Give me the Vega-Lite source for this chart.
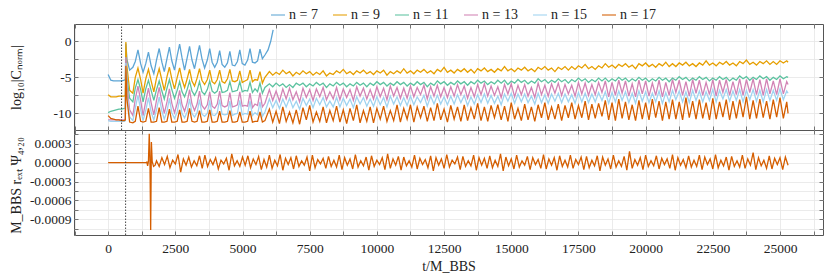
{
"$schema": "https://vega.github.io/schema/vega-lite/v6.json",
"autosize": {"type": "pad"},
"padding": {"left": 8, "top": 5, "right": 0, "bottom": 0},
"spacing": 0,
"bounds": "flush",
"config": {
 "view": {"stroke": "#555", "strokeWidth": 1},
 "font": "Liberation Serif",
 "axis": {"labelFont": "Liberation Serif", "labelFontSize": 13.5, "labelColor": "#222", "titleFont": "Liberation Serif", "titleFontSize": 14, "titleColor": "#222", "titleFontWeight": "normal", "domain": false, "tickColor": "#555", "tickSize": -4, "tickWidth": 0.8, "gridColor": "#e6e6e6", "gridWidth": 0.8, "labelFlush": false, "labelOverlap": false, "labelPadding": 7}
},
"datasets": {
 "top": [
{"t":0,"n07":-4.6,"n09":-7.4,"n11":-9.9,"n13":-10.9,"n15":-11.0,"n17":-10.3},
{"t":100,"n07":-5.4,"n09":-7.7,"n11":-9.7,"n13":-10.9,"n15":-11.1,"n17":-10.7},
{"t":200,"n07":-5.5,"n09":-7.7,"n11":-9.6,"n13":-10.9,"n15":-11.1,"n17":-10.8},
{"t":300,"n07":-5.5,"n09":-7.7,"n11":-9.5,"n13":-10.9,"n15":-11.1,"n17":-10.9},
{"t":400,"n07":-5.5,"n09":-7.6,"n11":-9.4,"n13":-10.9,"n15":-11.1,"n17":-10.9},
{"t":500,"n07":-5.5,"n09":-7.6,"n11":-9.4,"n13":-10.9,"n15":-11.1,"n17":-11.0},
{"t":600,"n07":-5.4,"n09":-7.6,"n11":-9.3,"n13":-10.9,"n15":-11.1,"n17":-11.0},
{"t":640,"n07":-5.3,"n09":-7.5,"n11":-9.3,"n13":-10.8,"n15":-11.0,"n17":-10.9},
{"t":660,"n07":-0.3,"n09":-0.1,"n11":-2.2,"n13":-2.2,"n15":-3.0,"n17":-3.4},
{"t":700,"n07":-2.5,"n09":-3.5,"n11":-5.0,"n13":-6.0,"n15":-7.0,"n17":-8.0},
{"t":800,"n07":-4.0,"n09":-6.8,"n11":-7.9,"n13":-9.5,"n15":-10.5,"n17":-11.2},
{"t":920,"n07":-3.6,"n09":-7.2,"n11":-8.4,"n13":-10.3,"n15":-11.0,"n17":-11.3},
{"t":1010,"n07":-2.8,"n09":-5.0,"n11":-6.5,"n13":-8.0,"n15":-9.3,"n17":-11.1},
{"t":1110,"n07":-1.2,"n09":-3.7,"n11":-5.3,"n13":-6.2,"n15":-7.5,"n17":-9.0},
{"t":1210,"n07":-3.1,"n09":-5.3,"n11":-6.7,"n13":-8.2,"n15":-9.5,"n17":-11.1},
{"t":1300,"n07":-4.3,"n09":-7.2,"n11":-8.4,"n13":-10.3,"n15":-11.0,"n17":-11.2},
{"t":1400,"n07":-3.1,"n09":-5.2,"n11":-6.6,"n13":-8.3,"n15":-9.6,"n17":-11.1},
{"t":1500,"n07":-1.5,"n09":-3.9,"n11":-5.4,"n13":-6.5,"n15":-7.8,"n17":-9.3},
{"t":1600,"n07":-3.4,"n09":-5.5,"n11":-6.8,"n13":-8.5,"n15":-9.8,"n17":-11.2},
{"t":1700,"n07":-4.5,"n09":-7.0,"n11":-8.2,"n13":-10.2,"n15":-10.9,"n17":-11.2},
{"t":1800,"n07":-2.6,"n09":-5.1,"n11":-6.7,"n13":-8.2,"n15":-9.5,"n17":-11.1},
{"t":1900,"n07":-1.0,"n09":-3.8,"n11":-5.5,"n13":-6.4,"n15":-7.7,"n17":-9.2},
{"t":2000,"n07":-2.9,"n09":-5.4,"n11":-6.9,"n13":-8.4,"n15":-9.7,"n17":-11.2},
{"t":2090,"n07":-4.2,"n09":-6.8,"n11":-8.0,"n13":-10.0,"n15":-10.8,"n17":-11.2},
{"t":2190,"n07":-2.4,"n09":-4.9,"n11":-6.5,"n13":-8.4,"n15":-9.7,"n17":-11.1},
{"t":2280,"n07":-0.8,"n09":-3.6,"n11":-5.3,"n13":-6.6,"n15":-7.9,"n17":-9.4},
{"t":2370,"n07":-2.7,"n09":-5.2,"n11":-6.7,"n13":-8.6,"n15":-9.9,"n17":-11.2},
{"t":2470,"n07":-4.0,"n09":-6.6,"n11":-7.9,"n13":-9.9,"n15":-10.7,"n17":-11.2},
{"t":2570,"n07":-2.0,"n09":-5.0,"n11":-6.8,"n13":-8.6,"n15":-9.8,"n17":-11.1},
{"t":2660,"n07":-0.4,"n09":-3.7,"n11":-5.6,"n13":-6.8,"n15":-8.0,"n17":-9.5},
{"t":2750,"n07":-2.3,"n09":-5.3,"n11":-7.0,"n13":-8.8,"n15":-10.0,"n17":-11.2},
{"t":2845,"n07":-4.0,"n09":-6.4,"n11":-7.7,"n13":-9.7,"n15":-10.6,"n17":-11.2},
{"t":2940,"n07":-2.3,"n09":-5.2,"n11":-6.7,"n13":-8.5,"n15":-9.8,"n17":-11.1},
{"t":3030,"n07":-0.7,"n09":-3.9,"n11":-5.5,"n13":-6.7,"n15":-8.0,"n17":-9.3},
{"t":3120,"n07":-2.6,"n09":-5.5,"n11":-6.9,"n13":-8.7,"n15":-10.0,"n17":-11.1},
{"t":3215,"n07":-3.8,"n09":-6.2,"n11":-7.5,"n13":-9.6,"n15":-10.5,"n17":-11.2},
{"t":3310,"n07":-2.1,"n09":-5.1,"n11":-6.8,"n13":-8.7,"n15":-9.9,"n17":-11.1},
{"t":3400,"n07":-0.55,"n09":-3.8,"n11":-5.6,"n13":-6.9,"n15":-8.1,"n17":-9.6},
{"t":3490,"n07":-2.4,"n09":-5.4,"n11":-7.0,"n13":-8.9,"n15":-10.1,"n17":-11.2},
{"t":3590,"n07":-3.7,"n09":-6.0,"n11":-7.4,"n13":-9.4,"n15":-10.4,"n17":-11.2},
{"t":3690,"n07":-2.6,"n09":-5.3,"n11":-6.7,"n13":-8.8,"n15":-10.0,"n17":-11.1},
{"t":3780,"n07":-1.0,"n09":-4.0,"n11":-5.5,"n13":-7.0,"n15":-8.2,"n17":-9.5},
{"t":3870,"n07":-2.9,"n09":-5.6,"n11":-6.9,"n13":-9.0,"n15":-10.2,"n17":-11.2},
{"t":3965,"n07":-3.6,"n09":-5.9,"n11":-7.2,"n13":-9.3,"n15":-10.3,"n17":-11.2},
{"t":4060,"n07":-2.9,"n09":-5.3,"n11":-6.9,"n13":-8.7,"n15":-9.9,"n17":-11.1},
{"t":4150,"n07":-1.3,"n09":-4.0,"n11":-5.7,"n13":-6.9,"n15":-8.1,"n17":-9.7},
{"t":4240,"n07":-3.2,"n09":-5.6,"n11":-7.1,"n13":-8.9,"n15":-10.1,"n17":-11.2},
{"t":4340,"n07":-3.6,"n09":-5.8,"n11":-7.0,"n13":-9.1,"n15":-10.2,"n17":-11.2},
{"t":4440,"n07":-3.0,"n09":-5.2,"n11":-6.8,"n13":-8.9,"n15":-10.1,"n17":-11.1},
{"t":4530,"n07":-1.4,"n09":-3.9,"n11":-5.6,"n13":-7.1,"n15":-8.3,"n17":-9.6},
{"t":4620,"n07":-3.3,"n09":-5.5,"n11":-7.0,"n13":-9.1,"n15":-10.3,"n17":-11.2},
{"t":4715,"n07":-3.4,"n09":-5.6,"n11":-6.9,"n13":-9.0,"n15":-10.1,"n17":-11.2},
{"t":4810,"n07":-2.8,"n09":-5.4,"n11":-6.8,"n13":-8.8,"n15":-10.0,"n17":-11.1},
{"t":4900,"n07":-1.2,"n09":-4.1,"n11":-5.6,"n13":-7.0,"n15":-8.2,"n17":-9.8},
{"t":4990,"n07":-3.1,"n09":-5.7,"n11":-7.0,"n13":-9.0,"n15":-10.2,"n17":-11.2},
{"t":5090,"n07":-3.3,"n09":-5.5,"n11":-6.8,"n13":-8.9,"n15":-10.0,"n17":-11.2},
{"t":5190,"n07":-2.6,"n09":-5.3,"n11":-6.9,"n13":-9.0,"n15":-10.1,"n17":-11.1},
{"t":5280,"n07":-1.0,"n09":-4.0,"n11":-5.7,"n13":-7.2,"n15":-8.3,"n17":-9.7},
{"t":5370,"n07":-2.9,"n09":-5.6,"n11":-7.1,"n13":-9.2,"n15":-10.3,"n17":-11.2},
{"t":5465,"n07":-3.0,"n09":-5.3,"n11":-6.6,"n13":-8.7,"n15":-9.9,"n17":-11.1},
{"t":5560,"n07":-2.7,"n09":-5.4,"n11":-7.0,"n13":-8.9,"n15":-10.2,"n17":-11.1},
{"t":5650,"n07":-1.1,"n09":-4.2,"n11":-5.8,"n13":-7.1,"n15":-8.4,"n17":-9.8},
{"t":5740,"n07":-2.4,"n09":-5.8,"n11":-7.2,"n13":-9.1,"n15":-10.4,"n17":-11.2},
{"t":5835,"n07":-1.9,"n09":-5.0,"n11":-6.4,"n13":-8.6,"n15":-9.8,"n17":-11.0},
{"t":5950,"n07":-1.2},
{"t":6050,"n07":0.0},
{"t":6100,"n07":0.9},
{"t":6140,"n07":1.6},
{"t":6000,"n09":-4.2,"n11":-5.9,"n13":-6.7,"n15":-8.0,"n17":-9.4},
{"t":6125,"n09":-4.7,"n11":-6.3,"n13":-8.2,"n15":-9.2,"n17":-11.2},
{"t":6250,"n09":-4.3,"n11":-5.8,"n13":-6.9,"n15":-8.2,"n17":-9.7},
{"t":6375,"n09":-4.6,"n11":-6.2,"n13":-8.3,"n15":-9.3,"n17":-11.4},
{"t":6500,"n09":-4.0,"n11":-5.9,"n13":-6.6,"n15":-8.0,"n17":-9.1},
{"t":6625,"n09":-4.5,"n11":-6.4,"n13":-8.0,"n15":-9.1,"n17":-11.1},
{"t":6750,"n09":-4.2,"n11":-6.0,"n13":-6.5,"n15":-7.9,"n17":-9.8},
{"t":6875,"n09":-4.8,"n11":-6.4,"n13":-8.1,"n15":-9.2,"n17":-11.3},
{"t":7000,"n09":-4.3,"n11":-5.8,"n13":-7.0,"n15":-8.3,"n17":-9.5},
{"t":7125,"n09":-4.6,"n11":-6.1,"n13":-8.4,"n15":-9.4,"n17":-11.5},
{"t":7250,"n09":-4.1,"n11":-5.8,"n13":-6.5,"n15":-7.9,"n17":-9.2},
{"t":7375,"n09":-4.5,"n11":-6.3,"n13":-7.8,"n15":-8.9,"n17":-10.9},
{"t":7500,"n09":-4.2,"n11":-5.9,"n13":-6.7,"n15":-8.0,"n17":-8.9},
{"t":7625,"n09":-4.7,"n11":-6.2,"n13":-8.2,"n15":-9.2,"n17":-11.2},
{"t":7750,"n09":-4.3,"n11":-5.7,"n13":-6.6,"n15":-7.9,"n17":-9.8},
{"t":7875,"n09":-4.6,"n11":-6.1,"n13":-7.7,"n15":-8.8,"n17":-11.1},
{"t":8000,"n09":-4.1,"n11":-5.8,"n13":-6.4,"n15":-7.8,"n17":-9.1},
{"t":8125,"n09":-4.8,"n11":-6.4,"n13":-8.1,"n15":-9.1,"n17":-11.3},
{"t":8250,"n09":-4.4,"n11":-5.9,"n13":-7.0,"n15":-8.3,"n17":-9.6},
{"t":8375,"n09":-4.6,"n11":-6.2,"n13":-8.0,"n15":-9.1,"n17":-11.0},
{"t":8500,"n09":-4.1,"n11":-5.7,"n13":-6.4,"n15":-7.8,"n17":-9.0},
{"t":8625,"n09":-4.4,"n11":-6.1,"n13":-8.1,"n15":-9.1,"n17":-11.2},
{"t":8750,"n09":-3.9,"n11":-5.8,"n13":-6.6,"n15":-7.9,"n17":-9.5},
{"t":8875,"n09":-4.5,"n11":-6.3,"n13":-7.8,"n15":-8.9,"n17":-11.4},
{"t":9000,"n09":-4.2,"n11":-5.9,"n13":-6.7,"n15":-8.0,"n17":-9.3},
{"t":9125,"n09":-4.6,"n11":-6.2,"n13":-8.2,"n15":-9.2,"n17":-11.0},
{"t":9250,"n09":-4.1,"n11":-5.7,"n13":-6.3,"n15":-7.7,"n17":-8.8},
{"t":9375,"n09":-4.4,"n11":-6.1,"n13":-7.6,"n15":-8.7,"n17":-11.3},
{"t":9500,"n09":-4.0,"n11":-5.8,"n13":-6.5,"n15":-7.8,"n17":-9.6},
{"t":9625,"n09":-4.5,"n11":-6.3,"n13":-8.0,"n15":-9.0,"n17":-11.1},
{"t":9750,"n09":-4.2,"n11":-5.8,"n13":-6.7,"n15":-8.0,"n17":-9.1},
{"t":9875,"n09":-4.6,"n11":-6.1,"n13":-8.0,"n15":-9.0,"n17":-11.3},
{"t":10000,"n09":-4.1,"n11":-5.6,"n13":-6.3,"n15":-7.7,"n17":-9.3},
{"t":10125,"n09":-4.4,"n11":-6.0,"n13":-7.7,"n15":-8.8,"n17":-10.8},
{"t":10250,"n09":-4.0,"n11":-5.7,"n13":-6.5,"n15":-7.8,"n17":-9.0},
{"t":10375,"n09":-4.7,"n11":-6.2,"n13":-8.1,"n15":-9.1,"n17":-11.1},
{"t":10500,"n09":-4.2,"n11":-5.8,"n13":-6.2,"n15":-7.6,"n17":-9.6},
{"t":10625,"n09":-4.5,"n11":-6.1,"n13":-7.6,"n15":-8.7,"n17":-11.0},
{"t":10750,"n09":-4.1,"n11":-5.6,"n13":-6.4,"n15":-7.7,"n17":-8.8},
{"t":10875,"n09":-4.4,"n11":-6.0,"n13":-7.9,"n15":-8.9,"n17":-11.2},
{"t":11000,"n09":-3.8,"n11":-5.7,"n13":-6.5,"n15":-7.8,"n17":-9.3},
{"t":11125,"n09":-4.4,"n11":-6.2,"n13":-7.9,"n15":-8.9,"n17":-10.8},
{"t":11250,"n09":-4.1,"n11":-5.8,"n13":-6.2,"n15":-7.6,"n17":-8.8},
{"t":11375,"n09":-4.5,"n11":-6.1,"n13":-7.7,"n15":-8.8,"n17":-11.2},
{"t":11500,"n09":-4.0,"n11":-5.6,"n13":-6.4,"n15":-7.7,"n17":-9.1},
{"t":11625,"n09":-4.3,"n11":-6.0,"n13":-7.4,"n15":-8.5,"n17":-10.6},
{"t":11750,"n09":-3.9,"n11":-5.7,"n13":-6.1,"n15":-7.5,"n17":-9.0},
{"t":11875,"n09":-4.4,"n11":-6.3,"n13":-8.0,"n15":-9.0,"n17":-11.1},
{"t":12000,"n09":-4.1,"n11":-5.8,"n13":-6.3,"n15":-7.6,"n17":-9.2},
{"t":12125,"n09":-4.5,"n11":-6.1,"n13":-7.6,"n15":-8.7,"n17":-11.0},
{"t":12250,"n09":-3.9,"n11":-5.5,"n13":-6.1,"n15":-7.5,"n17":-8.6},
{"t":12375,"n09":-4.2,"n11":-5.9,"n13":-7.7,"n15":-8.7,"n17":-10.9},
{"t":12500,"n09":-3.6,"n11":-5.6,"n13":-6.4,"n15":-7.7,"n17":-9.4},
{"t":12625,"n09":-4.3,"n11":-6.1,"n13":-7.8,"n15":-8.8,"n17":-11.2},
{"t":12750,"n09":-4.0,"n11":-5.7,"n13":-6.3,"n15":-7.6,"n17":-8.9},
{"t":12875,"n09":-4.4,"n11":-6.0,"n13":-7.6,"n15":-8.7,"n17":-10.8},
{"t":13000,"n09":-3.9,"n11":-5.5,"n13":-6.0,"n15":-7.4,"n17":-9.1},
{"t":13125,"n09":-4.2,"n11":-5.9,"n13":-7.4,"n15":-8.5,"n17":-11.1},
{"t":13250,"n09":-3.8,"n11":-5.6,"n13":-6.2,"n15":-7.5,"n17":-8.8},
{"t":13375,"n09":-4.3,"n11":-6.1,"n13":-7.9,"n15":-8.9,"n17":-11.0},
{"t":13500,"n09":-3.9,"n11":-5.6,"n13":-6.4,"n15":-7.7,"n17":-9.2},
{"t":13625,"n09":-4.4,"n11":-5.9,"n13":-7.7,"n15":-8.7,"n17":-10.8},
{"t":13750,"n09":-3.8,"n11":-5.4,"n13":-6.0,"n15":-7.4,"n17":-8.6},
{"t":13875,"n09":-4.1,"n11":-5.8,"n13":-7.4,"n15":-8.5,"n17":-11.0},
{"t":14000,"n09":-3.7,"n11":-5.5,"n13":-5.9,"n15":-7.3,"n17":-9.1},
{"t":14125,"n09":-4.2,"n11":-6.0,"n13":-7.6,"n15":-8.6,"n17":-11.1},
{"t":14250,"n09":-3.9,"n11":-5.6,"n13":-6.2,"n15":-7.5,"n17":-8.9},
{"t":14375,"n09":-4.3,"n11":-5.9,"n13":-7.5,"n15":-8.6,"n17":-10.6},
{"t":14500,"n09":-3.8,"n11":-5.4,"n13":-6.3,"n15":-7.6,"n17":-8.8},
{"t":14625,"n09":-4.1,"n11":-5.8,"n13":-7.8,"n15":-8.8,"n17":-10.9},
{"t":14750,"n09":-3.5,"n11":-5.4,"n13":-6.0,"n15":-7.3,"n17":-9.0},
{"t":14875,"n09":-4.1,"n11":-6.0,"n13":-7.3,"n15":-8.3,"n17":-11.1},
{"t":15000,"n09":-3.8,"n11":-5.5,"n13":-5.9,"n15":-7.2,"n17":-8.5},
{"t":15125,"n09":-4.2,"n11":-5.8,"n13":-7.7,"n15":-8.6,"n17":-10.8},
{"t":15250,"n09":-3.7,"n11":-5.3,"n13":-6.1,"n15":-7.3,"n17":-9.3},
{"t":15375,"n09":-4.0,"n11":-5.7,"n13":-7.4,"n15":-8.4,"n17":-11.0},
{"t":15500,"n09":-3.6,"n11":-5.4,"n13":-6.0,"n15":-7.3,"n17":-8.7},
{"t":15625,"n09":-4.1,"n11":-5.9,"n13":-7.6,"n15":-8.5,"n17":-10.9},
{"t":15750,"n09":-3.8,"n11":-5.5,"n13":-6.4,"n15":-7.6,"n17":-9.1},
{"t":15875,"n09":-4.2,"n11":-5.8,"n13":-7.8,"n15":-8.7,"n17":-11.1},
{"t":16000,"n09":-3.6,"n11":-5.2,"n13":-5.8,"n15":-7.2,"n17":-8.8},
{"t":16125,"n09":-3.9,"n11":-5.6,"n13":-7.4,"n15":-8.5,"n17":-10.6},
{"t":16250,"n09":-3.5,"n11":-5.3,"n13":-6.1,"n15":-7.4,"n17":-8.5},
{"t":16375,"n09":-4.0,"n11":-5.8,"n13":-7.6,"n15":-8.6,"n17":-10.9},
{"t":16500,"n09":-3.7,"n11":-5.4,"n13":-5.9,"n15":-7.3,"n17":-9.1},
{"t":16625,"n09":-4.2,"n11":-5.7,"n13":-7.2,"n15":-8.3,"n17":-10.8},
{"t":16750,"n09":-3.6,"n11":-5.2,"n13":-5.8,"n15":-7.2,"n17":-8.7},
{"t":16875,"n09":-3.9,"n11":-5.6,"n13":-7.5,"n15":-8.5,"n17":-11.0},
{"t":17000,"n09":-3.5,"n11":-5.3,"n13":-6.0,"n15":-7.3,"n17":-8.9},
{"t":17125,"n09":-4.0,"n11":-5.8,"n13":-7.3,"n15":-8.4,"n17":-10.6},
{"t":17250,"n09":-3.5,"n11":-5.3,"n13":-6.1,"n15":-7.4,"n17":-8.5},
{"t":17375,"n09":-3.9,"n11":-5.6,"n13":-7.6,"n15":-8.6,"n17":-10.8},
{"t":17500,"n09":-3.4,"n11":-5.1,"n13":-5.7,"n15":-7.1,"n17":-8.9},
{"t":17625,"n09":-3.7,"n11":-5.5,"n13":-7.3,"n15":-8.4,"n17":-10.6},
{"t":17750,"n09":-3.2,"n11":-5.2,"n13":-5.8,"n15":-7.2,"n17":-8.3},
{"t":17875,"n09":-3.8,"n11":-5.7,"n13":-7.5,"n15":-8.5,"n17":-10.9},
{"t":18000,"n09":-3.5,"n11":-5.3,"n13":-6.0,"n15":-7.3,"n17":-8.7},
{"t":18125,"n09":-3.9,"n11":-5.6,"n13":-7.4,"n15":-8.4,"n17":-10.7},
{"t":18250,"n09":-3.4,"n11":-5.1,"n13":-5.7,"n15":-7.1,"n17":-8.6},
{"t":18375,"n09":-3.7,"n11":-5.5,"n13":-7.1,"n15":-8.2,"n17":-10.4},
{"t":18500,"n09":-3.1,"n11":-5.1,"n13":-5.5,"n15":-7.0,"n17":-8.2},
{"t":18625,"n09":-3.6,"n11":-5.6,"n13":-7.7,"n15":-8.6,"n17":-10.9},
{"t":18750,"n09":-3.3,"n11":-5.2,"n13":-5.7,"n15":-7.1,"n17":-8.5},
{"t":18875,"n09":-3.7,"n11":-5.5,"n13":-7.5,"n15":-8.4,"n17":-11.0},
{"t":19000,"n09":-3.2,"n11":-5.0,"n13":-5.4,"n15":-6.9,"n17":-8.0},
{"t":19125,"n09":-3.5,"n11":-5.4,"n13":-7.2,"n15":-8.2,"n17":-10.7},
{"t":19250,"n09":-3.1,"n11":-5.1,"n13":-5.5,"n15":-7.0,"n17":-8.4},
{"t":19375,"n09":-3.6,"n11":-5.6,"n13":-7.6,"n15":-8.5,"n17":-10.9},
{"t":19500,"n09":-3.3,"n11":-5.2,"n13":-5.9,"n15":-7.2,"n17":-8.8},
{"t":19625,"n09":-3.8,"n11":-5.5,"n13":-7.7,"n15":-8.6,"n17":-11.0},
{"t":19750,"n09":-3.1,"n11":-5.0,"n13":-5.4,"n15":-6.9,"n17":-8.2},
{"t":19875,"n09":-3.4,"n11":-5.4,"n13":-7.3,"n15":-8.3,"n17":-10.8},
{"t":20000,"n09":-3.0,"n11":-5.1,"n13":-5.5,"n15":-7.0,"n17":-8.5},
{"t":20125,"n09":-3.5,"n11":-5.6,"n13":-7.6,"n15":-8.5,"n17":-10.9},
{"t":20250,"n09":-3.2,"n11":-5.2,"n13":-5.8,"n15":-7.2,"n17":-8.0},
{"t":20375,"n09":-3.6,"n11":-5.5,"n13":-7.5,"n15":-8.4,"n17":-10.6},
{"t":20500,"n09":-3.1,"n11":-5.0,"n13":-5.4,"n15":-6.9,"n17":-8.3},
{"t":20625,"n09":-3.4,"n11":-5.4,"n13":-7.7,"n15":-8.6,"n17":-11.0},
{"t":20750,"n09":-2.9,"n11":-5.1,"n13":-5.7,"n15":-7.1,"n17":-8.4},
{"t":20875,"n09":-3.5,"n11":-5.6,"n13":-7.5,"n15":-8.4,"n17":-10.8},
{"t":21000,"n09":-3.1,"n11":-5.1,"n13":-5.3,"n15":-6.8,"n17":-8.1},
{"t":21125,"n09":-3.5,"n11":-5.4,"n13":-7.1,"n15":-8.1,"n17":-10.8},
{"t":21250,"n09":-3.0,"n11":-4.9,"n13":-5.4,"n15":-6.9,"n17":-8.4},
{"t":21375,"n09":-3.3,"n11":-5.3,"n13":-7.5,"n15":-8.4,"n17":-10.9},
{"t":21500,"n09":-2.9,"n11":-5.0,"n13":-5.6,"n15":-7.0,"n17":-7.8},
{"t":21625,"n09":-3.4,"n11":-5.5,"n13":-7.6,"n15":-8.5,"n17":-10.6},
{"t":21750,"n09":-3.1,"n11":-5.1,"n13":-5.3,"n15":-6.8,"n17":-8.3},
{"t":21875,"n09":-3.5,"n11":-5.4,"n13":-7.2,"n15":-8.2,"n17":-10.8},
{"t":22000,"n09":-3.0,"n11":-4.9,"n13":-5.4,"n15":-6.9,"n17":-8.1},
{"t":22125,"n09":-3.3,"n11":-5.3,"n13":-7.5,"n15":-8.4,"n17":-10.7},
{"t":22250,"n09":-2.7,"n11":-5.0,"n13":-5.7,"n15":-7.0,"n17":-8.5},
{"t":22375,"n09":-3.3,"n11":-5.5,"n13":-7.4,"n15":-8.2,"n17":-10.9},
{"t":22500,"n09":-3.0,"n11":-5.1,"n13":-5.3,"n15":-6.7,"n17":-7.9},
{"t":22625,"n09":-3.4,"n11":-5.4,"n13":-7.6,"n15":-8.4,"n17":-10.8},
{"t":22750,"n09":-2.9,"n11":-4.9,"n13":-5.4,"n15":-6.8,"n17":-8.4},
{"t":22875,"n09":-3.2,"n11":-5.3,"n13":-7.1,"n15":-8.0,"n17":-10.5},
{"t":23000,"n09":-2.8,"n11":-5.0,"n13":-5.3,"n15":-6.7,"n17":-8.1},
{"t":23125,"n09":-3.3,"n11":-5.5,"n13":-7.5,"n15":-8.3,"n17":-10.9},
{"t":23250,"n09":-3.0,"n11":-5.1,"n13":-5.6,"n15":-6.9,"n17":-8.3},
{"t":23375,"n09":-3.4,"n11":-5.4,"n13":-7.4,"n15":-8.2,"n17":-10.7},
{"t":23500,"n09":-2.8,"n11":-4.8,"n13":-5.2,"n15":-6.7,"n17":-8.1},
{"t":23625,"n09":-3.1,"n11":-5.2,"n13":-7.5,"n15":-8.4,"n17":-10.5},
{"t":23750,"n09":-2.6,"n11":-4.9,"n13":-5.3,"n15":-6.8,"n17":-7.7},
{"t":23875,"n09":-3.2,"n11":-5.4,"n13":-7.1,"n15":-8.1,"n17":-10.8},
{"t":24000,"n09":-2.9,"n11":-5.0,"n13":-5.2,"n15":-6.7,"n17":-8.2},
{"t":24125,"n09":-3.3,"n11":-5.3,"n13":-7.4,"n15":-8.3,"n17":-10.7},
{"t":24250,"n09":-2.8,"n11":-4.8,"n13":-5.3,"n15":-6.8,"n17":-8.0},
{"t":24375,"n09":-3.1,"n11":-5.2,"n13":-7.5,"n15":-8.4,"n17":-10.6},
{"t":24500,"n09":-2.7,"n11":-4.9,"n13":-5.2,"n15":-6.7,"n17":-8.3},
{"t":24625,"n09":-3.2,"n11":-5.4,"n13":-7.3,"n15":-8.2,"n17":-10.8},
{"t":24750,"n09":-2.8,"n11":-5.0,"n13":-5.5,"n15":-6.8,"n17":-8.1},
{"t":24875,"n09":-3.2,"n11":-5.3,"n13":-7.4,"n15":-8.2,"n17":-10.5},
{"t":25000,"n09":-2.7,"n11":-4.8,"n13":-5.2,"n15":-6.6,"n17":-7.8},
{"t":25125,"n09":-3.0,"n11":-5.2,"n13":-7.3,"n15":-8.1,"n17":-10.7},
{"t":25250,"n09":-2.7,"n11":-4.9,"n13":-5.6,"n15":-6.9,"n17":-8.4},
{"t":25300,"n09":-2.9,"n11":-5.0,"n13":-6.0,"n15":-7.2,"n17":-10.0}
 ],
 "psi": [
{"t":0,"psi":0},{"t":1000,"psi":0},{"t":1400,"psi":0},{"t":1440,"psi":0.00001},{"t":1470,"psi":-0.00005},{"t":1500,"psi":0.00002},{"t":1530,"psi":0.00046},{"t":1555,"psi":0.0001},{"t":1583,"psi":-0.00107},{"t":1610,"psi":0.00033},{"t":1640,"psi":0.00002},{"t":1690,"psi":-0.00006},{"t":1750,"psi":-0.00004},
{"t":1800,"psi":0.00003},{"t":1900,"psi":-0.00006},{"t":2000,"psi":0.00008},{"t":2100,"psi":-0.00003},{"t":2200,"psi":0.0001},{"t":2300,"psi":-0.00008},{"t":2400,"psi":0.00004},{"t":2500,"psi":-0.00002},{"t":2600,"psi":0.00013},{"t":2700,"psi":-0.00015},
{"t":2800,"psi":0.00006},{"t":2900,"psi":-0.00004},{"t":3000,"psi":0.00009},{"t":3100,"psi":-0.00007},{"t":3200,"psi":0.00003},{"t":3300,"psi":-0.00005},{"t":3400,"psi":0.00011},{"t":3500,"psi":-0.00009},{"t":3600,"psi":0.00012},{"t":3700,"psi":-0.00006},
{"t":3800,"psi":0.00005},{"t":3900,"psi":-0.00003},{"t":4000,"psi":0.00008},{"t":4100,"psi":-0.0001},{"t":4200,"psi":0.00004},{"t":4300,"psi":-0.00002},{"t":4400,"psi":0.00007},{"t":4500,"psi":-0.00012},{"t":4600,"psi":0.00014},{"t":4700,"psi":-0.00005},
{"t":4800,"psi":0.00003},{"t":4900,"psi":-0.00006},{"t":5000,"psi":0.00009},{"t":5100,"psi":-0.00004},{"t":5200,"psi":0.00011},{"t":5300,"psi":-0.00008},{"t":5400,"psi":0.00006},{"t":5500,"psi":-0.00003},{"t":5600,"psi":0.0001},{"t":5700,"psi":-0.00011},
{"t":5800,"psi":0.00005},{"t":5900,"psi":-0.00007},{"t":6000,"psi":0.00012},{"t":6100,"psi":-0.00009},{"t":6200,"psi":0.00004},{"t":6300,"psi":-0.00005},{"t":6400,"psi":0.00013},{"t":6500,"psi":-0.00012},{"t":6600,"psi":0.00007},{"t":6700,"psi":-0.00003},
{"t":6800,"psi":0.00008},{"t":6900,"psi":-0.0001},{"t":7000,"psi":0.00011},{"t":7100,"psi":-0.00006},{"t":7200,"psi":0.00003},{"t":7300,"psi":-0.00004},{"t":7400,"psi":0.00009},{"t":7500,"psi":-0.00013},{"t":7600,"psi":0.00012},{"t":7700,"psi":-0.00008},
{"t":7800,"psi":0.00005},{"t":7900,"psi":-0.00002},{"t":8000,"psi":0.00007},{"t":8100,"psi":-0.00009},{"t":8200,"psi":0.0001},{"t":8300,"psi":-0.00006},{"t":8400,"psi":0.00004},{"t":8500,"psi":-0.00007},{"t":8600,"psi":0.00012},{"t":8700,"psi":-0.00011},
{"t":8800,"psi":0.00008},{"t":8900,"psi":-0.00004},{"t":9000,"psi":0.00006},{"t":9100,"psi":-0.0001},{"t":9200,"psi":0.00013},{"t":9300,"psi":-0.00007},{"t":9400,"psi":0.00003},{"t":9500,"psi":-0.00005},{"t":9600,"psi":0.00009},{"t":9700,"psi":-0.00012},
{"t":9800,"psi":0.00011},{"t":9900,"psi":-0.00006},{"t":10000,"psi":0.00004},{"t":10100,"psi":-0.00003},{"t":10200,"psi":0.00008},{"t":10300,"psi":-0.00011},{"t":10400,"psi":0.00014},{"t":10500,"psi":-0.00009},{"t":10600,"psi":0.00006},{"t":10700,"psi":-0.00004},
{"t":10800,"psi":0.0001},{"t":10900,"psi":-0.00012},{"t":11000,"psi":0.00009},{"t":11100,"psi":-0.00005},{"t":11200,"psi":0.00003},{"t":11300,"psi":-0.00007},{"t":11400,"psi":0.00012},{"t":11500,"psi":-0.0001},{"t":11600,"psi":0.00007},{"t":11700,"psi":-0.00003},
{"t":11800,"psi":0.00005},{"t":11900,"psi":-0.00008},{"t":12000,"psi":0.00011},{"t":12100,"psi":-0.00013},{"t":12200,"psi":0.00008},{"t":12300,"psi":-0.00004},{"t":12400,"psi":0.00006},{"t":12500,"psi":-0.00009},{"t":12600,"psi":0.00013},{"t":12700,"psi":-0.00007},
{"t":12800,"psi":0.00004},{"t":12900,"psi":-0.00002},{"t":13000,"psi":0.00009},{"t":13100,"psi":-0.00011},{"t":13200,"psi":0.0001},{"t":13300,"psi":-0.00006},{"t":13400,"psi":0.00003},{"t":13500,"psi":-0.00005},{"t":13600,"psi":0.00012},{"t":13700,"psi":-0.00012},
{"t":13800,"psi":0.00008},{"t":13900,"psi":-0.00004},{"t":14000,"psi":0.00007},{"t":14100,"psi":-0.00009},{"t":14200,"psi":0.00011},{"t":14300,"psi":-0.00008},{"t":14400,"psi":0.00004},{"t":14500,"psi":-0.00006},{"t":14600,"psi":0.00014},{"t":14700,"psi":-0.00013},
{"t":14800,"psi":0.00009},{"t":14900,"psi":-0.00005},{"t":15000,"psi":0.00006},{"t":15100,"psi":-0.0001},{"t":15200,"psi":0.00012},{"t":15300,"psi":-0.00007},{"t":15400,"psi":0.00003},{"t":15500,"psi":-0.00004},{"t":15600,"psi":0.0001},{"t":15700,"psi":-0.00011},
{"t":15800,"psi":0.00008},{"t":15900,"psi":-0.00003},{"t":16000,"psi":0.00005},{"t":16100,"psi":-0.00009},{"t":16200,"psi":0.00013},{"t":16300,"psi":-0.0001},{"t":16400,"psi":0.00006},{"t":16500,"psi":-0.00004},{"t":16600,"psi":0.00008},{"t":16700,"psi":-0.00012},
{"t":16800,"psi":0.00011},{"t":16900,"psi":-0.00006},{"t":17000,"psi":0.00004},{"t":17100,"psi":-0.00007},{"t":17200,"psi":0.00012},{"t":17300,"psi":-0.00009},{"t":17400,"psi":0.00005},{"t":17500,"psi":-0.00003},{"t":17600,"psi":0.00009},{"t":17700,"psi":-0.00011},
{"t":17800,"psi":0.0001},{"t":17900,"psi":-0.00008},{"t":18000,"psi":0.00004},{"t":18100,"psi":-0.00005},{"t":18200,"psi":0.00011},{"t":18300,"psi":-0.00013},{"t":18400,"psi":0.00009},{"t":18500,"psi":-0.00004},{"t":18600,"psi":0.00006},{"t":18700,"psi":-0.0001},
{"t":18800,"psi":0.00012},{"t":18900,"psi":-0.00007},{"t":19000,"psi":0.00003},{"t":19100,"psi":-0.00006},{"t":19200,"psi":0.0001},{"t":19300,"psi":-0.00012},{"t":19400,"psi":0.00018},{"t":19500,"psi":-0.00009},{"t":19600,"psi":0.00005},{"t":19700,"psi":-0.00004},
{"t":19800,"psi":0.00008},{"t":19900,"psi":-0.00011},{"t":20000,"psi":0.00012},{"t":20100,"psi":-0.00006},{"t":20200,"psi":0.00003},{"t":20300,"psi":-0.00005},{"t":20400,"psi":0.00011},{"t":20500,"psi":-0.0001},{"t":20600,"psi":0.00007},{"t":20700,"psi":-0.00003},
{"t":20800,"psi":0.00006},{"t":20900,"psi":-0.00009},{"t":21000,"psi":0.00013},{"t":21100,"psi":-0.00012},{"t":21200,"psi":0.00008},{"t":21300,"psi":-0.00004},{"t":21400,"psi":0.00005},{"t":21500,"psi":-0.00008},{"t":21600,"psi":0.00011},{"t":21700,"psi":-0.00007},
{"t":21800,"psi":0.00004},{"t":21900,"psi":-0.00006},{"t":22000,"psi":0.00012},{"t":22100,"psi":-0.00011},{"t":22200,"psi":0.00009},{"t":22300,"psi":-0.00003},{"t":22400,"psi":0.00006},{"t":22500,"psi":-0.0001},{"t":22600,"psi":0.00013},{"t":22700,"psi":-0.00008},
{"t":22800,"psi":0.00004},{"t":22900,"psi":-0.00005},{"t":23000,"psi":0.00009},{"t":23100,"psi":-0.00012},{"t":23200,"psi":0.0001},{"t":23300,"psi":-0.00006},{"t":23400,"psi":0.00003},{"t":23500,"psi":-0.00007},{"t":23600,"psi":0.00012},{"t":23700,"psi":-0.00009},
{"t":23800,"psi":0.00006},{"t":23900,"psi":-0.00004},{"t":24000,"psi":0.00016},{"t":24100,"psi":-0.00011},{"t":24200,"psi":0.00008},{"t":24300,"psi":-0.00005},{"t":24400,"psi":0.00004},{"t":24500,"psi":-0.00009},{"t":24600,"psi":0.00011},{"t":24700,"psi":-0.0001},
{"t":24800,"psi":0.00007},{"t":24900,"psi":-0.00003},{"t":25000,"psi":0.00008},{"t":25100,"psi":-0.00011},{"t":25200,"psi":0.00009},{"t":25300,"psi":-0.00004}
 ]
},
"vconcat": [
 {
  "width": 749, "height": 19,
  "data": {"values": [{"a": 1}]},
  "mark": {"type": "text", "text": ""},
  "encoding": {}
 },
 {
  "width": 749, "height": 106,
  "layer": [
   {
    "data": {"name": "top"},
    "transform": [
     {"fold": ["n07", "n09", "n11", "n13", "n15", "n17"], "as": ["series", "value"]},
     {"filter": "isValid(datum.value)"}
    ],
    "mark": {"type": "line", "strokeWidth": 1.3, "clip": true},
    "encoding": {
     "x": {"field": "t", "type": "quantitative", "scale": {"domain": [-1270, 26600], "nice": false, "zero": false},
           "axis": {"orient": "bottom", "values": [-1250,0,1250,2500,3750,5000,6250,7500,8750,10000,11250,12500,13750,15000,16250,17500,18750,20000,21250,22500,23750,25000,26250], "labels": false, "grid": true, "title": null}},
     "y": {"field": "value", "type": "quantitative", "scale": {"domain": [-12.3, 2.4], "nice": false, "zero": false},
           "axis": {"orient": "left", "values": [-10, -7.5, -5, -2.5, 0], "grid": true, "labelExpr": "datum.value % 5 == 0 ? datum.value + '' : ''", "title": "log₁₀|Cₙₒᵣₘ|", "titleX": -58, "titleY": 53, "titleAlign": "center", "titleBaseline": "middle", "titleAngle": -90}},
     "color": {"field": "series", "type": "nominal",
               "scale": {"domain": ["n07", "n09", "n11", "n13", "n15", "n17"], "range": ["#5DA5D5", "#E69F00", "#5CC2A0", "#D283B5", "#9FD3F0", "#D55E00"]},
               "legend": {"orient": "none", "legendX": 196, "legendY": 2, "direction": "horizontal", "title": null, "symbolType": "stroke", "symbolSize": 196, "symbolStrokeWidth": 1.6, "symbolOpacity": 0.65, "labelFont": "Liberation Serif", "labelFontSize": 14, "labelColor": "#222", "labelOffset": 3, "columnPadding": 11, "labelExpr": "'n = ' + toNumber(substring(datum.label, 1))"}}
    }
   },
   {
    "data": {"values": [{"t": 500}]},
    "mark": {"type": "rule", "strokeDash": [1.5, 1.5], "color": "#333", "strokeWidth": 0.9},
    "encoding": {
     "x": {"field": "t", "type": "quantitative", "axis": {"orient": "top", "values": [-1250,0,1250,2500,3750,5000,6250,7500,8750,10000,11250,12500,13750,15000,16250,17500,18750,20000,21250,22500,23750,25000,26250], "labels": false, "grid": false, "title": null}},
     "y": {"datum": -12.3, "type": "quantitative", "axis": {"orient": "right", "values": [-10, -7.5, -5, -2.5, 0], "labels": false, "grid": false, "title": null}},
     "y2": {"datum": 2.4}
    }
   }
  ],
  "resolve": {"axis": {"x": "independent", "y": "independent"}}
 },
 {
  "width": 749, "height": 105,
  "layer": [
   {
    "data": {"name": "psi"},
    "mark": {"type": "line", "strokeWidth": 1.3, "color": "#D55E00", "clip": true},
    "encoding": {
     "x": {"field": "t", "type": "quantitative", "scale": {"domain": [-1270, 26600], "nice": false, "zero": false},
           "axis": {"orient": "bottom", "values": [-1250,0,1250,2500,3750,5000,6250,7500,8750,10000,11250,12500,13750,15000,16250,17500,18750,20000,21250,22500,23750,25000,26250], "grid": true, "labelPadding": 10, "labelExpr": "datum.value >= 0 && datum.value % 2500 == 0 ? datum.value + '' : ''", "title": "t/M_BBS", "titleY": 35, "titleBaseline": "alphabetic"}},
     "y": {"field": "psi", "type": "quantitative", "scale": {"domain": [-0.00115, 0.00052], "nice": false, "zero": false},
           "axis": {"orient": "left", "values": [-0.00105, -0.0009, -0.00075, -0.0006, -0.00045, -0.0003, -0.00015, 0, 0.00015, 0.0003, 0.00045], "grid": true, "labelExpr": "abs(datum.value * 10000 / 3 - round(datum.value * 10000 / 3)) < 0.01 ? replace(format(datum.value, '.4f'), '−', '-') : ''", "title": "M_BBS rₑₓₜ Ψ₄,₂₀", "titleX": -58, "titleY": 55, "titleAlign": "center", "titleBaseline": "middle", "titleAngle": -90}}
    }
   },
   {
    "data": {"values": [{"t": 650}]},
    "mark": {"type": "rule", "strokeDash": [1.5, 1.5], "color": "#333", "strokeWidth": 0.9},
    "encoding": {
     "x": {"field": "t", "type": "quantitative", "axis": {"orient": "top", "values": [-1250,0,1250,2500,3750,5000,6250,7500,8750,10000,11250,12500,13750,15000,16250,17500,18750,20000,21250,22500,23750,25000,26250], "labels": false, "grid": false, "title": null}},
     "y": {"datum": -0.00115, "type": "quantitative", "axis": {"orient": "right", "values": [-0.00105, -0.0009, -0.00075, -0.0006, -0.00045, -0.0003, -0.00015, 0, 0.00015, 0.0003, 0.00045], "labels": false, "grid": false, "title": null}},
     "y2": {"datum": 0.00052}
    }
   }
  ],
  "resolve": {"axis": {"x": "independent", "y": "independent"}}
 }
]
}
